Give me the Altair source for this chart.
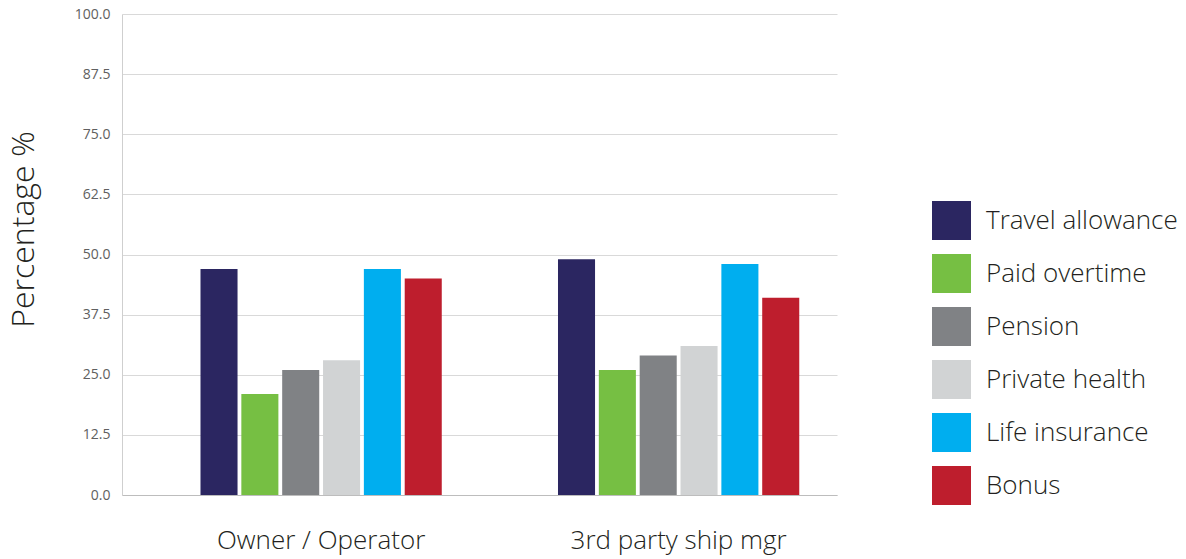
import altair as alt
import pandas as pd

# Share of respondents receiving each benefit, by employer type
groups = ["Owner / Operator", "3rd party ship mgr"]
benefits = ["Travel allowance", "Paid overtime", "Pension",
            "Private health", "Life insurance", "Bonus"]
owner_values = [47, 21, 26, 28, 47, 45]
third_party_values = [49, 26, 29, 31, 48, 41]
colors = ["#2b2661", "#76bf43", "#808285", "#d1d3d4", "#00aeef", "#be1e2d"]
y_ticks = [0, 12.5, 25, 37.5, 50, 62.5, 75, 87.5, 100]

rows = []
for g, vals in zip(groups, [owner_values, third_party_values]):
    for b, v in zip(benefits, vals):
        rows.append({"group": g, "benefit": b, "value": v})
df = pd.DataFrame(rows)

FONT = "Open Sans"

chart = alt.Chart(df).mark_bar().encode(
    x=alt.X("group:N", sort=groups,
            scale=alt.Scale(paddingInner=0.3, paddingOuter=0.15, align=0.69),
            axis=alt.Axis(title=None, labelAngle=0, labelFontSize=26,
                          labelFontWeight=300, labelLimit=500,
                          labelColor="#231f20", labelPadding=32, ticks=False,
                          domainColor="#bdbdbd", labelFont=FONT)),
    xOffset=alt.XOffset("benefit:N", sort=benefits,
                        scale=alt.Scale(paddingInner=0.093, paddingOuter=0.11)),
    y=alt.Y("value:Q",
            scale=alt.Scale(domain=[0, 100], nice=False),
            axis=alt.Axis(title="Percentage %", values=y_ticks, format=".1f",
                          labelFontSize=14, labelColor="#606060", labelPadding=12,
                          ticks=False, domainColor="#cfcfcf", gridColor="#d9d9d9",
                          labelFont=FONT, titleFont=FONT, titleFontSize=32,
                          titleFontWeight=300, titleColor="#231f20",
                          titleX=-99, titleY=215, titleBaseline="middle",
                          titleAlign="center", titleAngle=-90)),
    color=alt.Color("benefit:N", sort=benefits,
                    scale=alt.Scale(domain=benefits, range=colors),
                    legend=alt.Legend(title=None, orient="none", legendX=810,
                                      legendY=187, symbolType="square",
                                      symbolSize=1521, symbolStrokeWidth=0,
                                      symbolOpacity=1, labelFontSize=26,
                                      labelFontWeight=300, labelLimit=400,
                                      labelFont=FONT, labelColor="#231f20",
                                      labelOffset=15, rowPadding=14, padding=0)),
).properties(
    width=715,
    height=481,
    padding={"left": 122, "top": 14, "right": 349, "bottom": 64},
    autosize=alt.AutoSizeParams(type="none"),
).configure_view(stroke=None)

chart.save("out.html", embed_options={"renderer": "svg", "actions": False})
